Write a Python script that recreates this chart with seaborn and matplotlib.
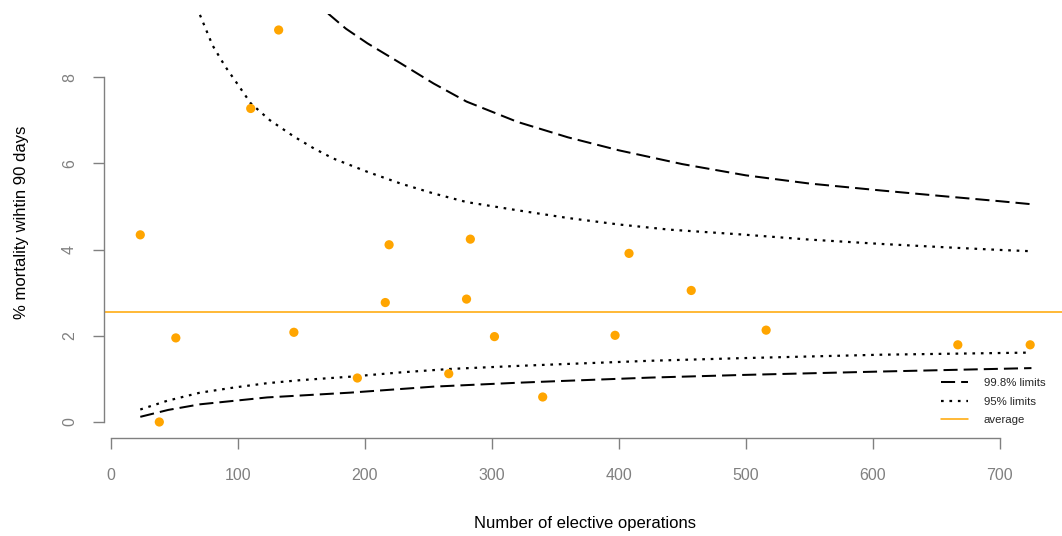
import matplotlib
matplotlib.use("Agg")
import matplotlib.pyplot as plt
from matplotlib.lines import Line2D
import seaborn as sns
import pandas as pd

# Hospitals: elective operations and 90-day mortality (%)
operations = [23, 38, 51, 110, 132, 144, 194, 216, 219, 266, 280, 283, 302, 340,
              397, 408, 457, 516, 667, 724]
mortality_pct = [4.34, 0.00, 1.95, 7.27, 9.09, 2.08, 1.02, 2.77, 4.11, 1.12, 2.85,
                 4.24, 1.98, 0.58, 2.01, 3.91, 3.05, 2.13, 1.79, 1.79]

average_pct = 2.54

# Control limits (funnel), by number of operations
upper95_n = [70, 80, 90, 100, 110, 125, 144, 160, 175, 202, 228, 254, 280, 320, 360,
             400, 440, 496, 550, 606, 658, 700, 725]
upper95_pct = [9.44, 8.73, 8.24, 7.82, 7.39, 7.00, 6.62, 6.34, 6.11, 5.80, 5.53, 5.30,
               5.10, 4.91, 4.73, 4.58, 4.46, 4.35, 4.23, 4.13, 4.05, 3.99, 3.96]
lower95_n = [23, 44, 70, 97, 123, 149, 188, 228, 267, 320, 354, 425, 496, 606, 725]
lower95_pct = [0.29, 0.49, 0.68, 0.80, 0.90, 0.97, 1.05, 1.15, 1.23, 1.30, 1.34, 1.42,
               1.48, 1.56, 1.61]
upper998_n = [171, 185, 202, 228, 254, 280, 320, 360, 400, 450, 500, 550, 606, 658,
              700, 725]
upper998_pct = [9.47, 9.12, 8.78, 8.32, 7.85, 7.43, 6.96, 6.60, 6.30, 5.98, 5.72, 5.53,
                5.37, 5.23, 5.12, 5.05]
lower998_n = [23, 45, 70, 123, 188, 254, 320, 354, 425, 496, 606, 725]
lower998_pct = [0.12, 0.28, 0.41, 0.57, 0.68, 0.82, 0.91, 0.95, 1.03, 1.09, 1.17, 1.25]

x_ticks = [0, 100, 200, 300, 400, 500, 600, 700]
y_ticks = [0, 2, 4, 6, 8]

sns.set_style("white")
plt.rcParams["font.family"] = ["Liberation Sans", "DejaVu Sans"]

GRAY = "#808080"
ORANGE = "#FFA500"
DASH = (0, (7, 3))
DOT = (0, (1.2, 2.6))
LW = 1.45
LW_DOT = 1.6

fig = plt.figure(figsize=(10.62, 5.36), dpi=100)
ax = fig.add_axes([0.0979, 0.1834, 0.9068, 0.7896])

ax.axhline(average_pct, color=ORANGE, linewidth=1.1, zorder=1)

for xs, ys, ls, lw in [(upper998_n, upper998_pct, DASH, LW),
                       (lower998_n, lower998_pct, DASH, LW),
                       (upper95_n, upper95_pct, DOT, LW_DOT),
                       (lower95_n, lower95_pct, DOT, LW_DOT)]:
    sns.lineplot(x=xs, y=ys, ax=ax, color="black", linewidth=lw, linestyle=ls,
                 sort=False, estimator=None, solid_capstyle="butt",
                 dash_capstyle="butt", zorder=2)

df = pd.DataFrame({"ops": operations, "pct": mortality_pct})
sns.scatterplot(data=df, x="ops", y="pct", ax=ax, color=ORANGE, s=44,
                edgecolor="none", zorder=3, clip_on=False)

ax.set_xlim(-5.6, 753)
ax.set_ylim(-0.364, 9.45)
ax.set_xticks(x_ticks)
ax.set_yticks(y_ticks)
ax.set_xticklabels([str(v) for v in x_ticks])
ax.set_yticklabels([str(v) for v in y_ticks], rotation=90, va="center")

for side in ["top", "right"]:
    ax.spines[side].set_visible(False)
for side in ["left", "bottom"]:
    ax.spines[side].set_color(GRAY)
    ax.spines[side].set_linewidth(1.0)
ax.spines["bottom"].set_bounds(0, 700)
ax.spines["left"].set_bounds(0, 8)

ax.tick_params(axis="both", which="major", bottom=True, left=True, length=8,
               width=1.0, color=GRAY, labelcolor=GRAY, labelsize=11.5,
               direction="out")
ax.tick_params(axis="x", pad=13.5)
ax.tick_params(axis="y", pad=11.5)
ax.grid(False)

ax.set_xlabel("Number of elective operations", fontsize=12, color="black")
ax.set_ylabel("% mortality wihtin 90 days", fontsize=12, color="black")
ax.xaxis.set_label_coords(0.5, -0.186)
ax.yaxis.set_label_coords(-0.078, 0.51)

handles = [
    Line2D([], [], color="black", linewidth=LW, linestyle=DASH),
    Line2D([], [], color="black", linewidth=LW_DOT, linestyle=DOT),
    Line2D([], [], color=ORANGE, linewidth=1.1),
]
fig.legend(handles, ["99.8% limits", "95% limits", "average"], loc="upper left",
           bbox_to_anchor=(0.8804, 0.306), frameon=False, fontsize=8.2,
           handlelength=2.4, handletextpad=1.4, labelspacing=0.78, borderpad=0)

fig.savefig("out.png", dpi=100)
